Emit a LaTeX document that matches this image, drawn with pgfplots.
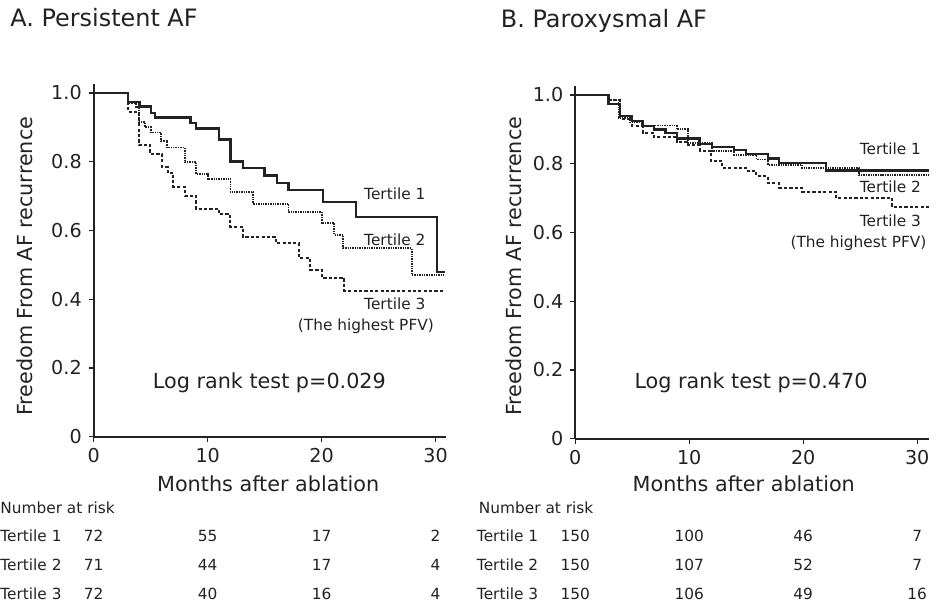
\documentclass[border=0pt]{standalone}
\usepackage{fontspec}
\setmainfont{DejaVu Sans}
\usepackage{pgfplots}
\pgfplotsset{compat=1.18}

\definecolor{ink}{HTML}{222222}

\newcommand\fa{\fontsize{10.4}{12}\selectfont}
\newcommand\fs{\fontsize{7.7}{9}\selectfont}
\newcommand\ft{\fontsize{12}{14}\selectfont}

\pgfplotsset{
  km/.style={
    x=5.715pt, y=172.4pt,
    xmin=0, xmax=30.9, ymin=0, ymax=1.026,
    axis x line*=bottom, axis y line*=left,
    axis line style={line width=0.9pt, color=ink},
    xtick={0,10,20,30}, xticklabels={0,10,20,30},
    ytick={0,0.2,0.4,0.6,0.8,1.0}, yticklabels={0,0.2,0.4,0.6,0.8,1.0},
    tick align=outside, major tick length=2.5pt,
    tick style={line width=0.6pt, color=ink},
    ticklabel style={font=\fontsize{9.6}{11}\selectfont, text=ink},
    clip=false,
    anchor=south west,
  },
  t1/.style={ink, line width=1.2pt, const plot},
  t2/.style={ink, line width=0.9pt, dash pattern=on 0.7pt off 0.5pt, const plot},
  t3/.style={ink, line width=1pt, dash pattern=on 1.6pt off 1.1pt, const plot},
}

\begin{document}
\begin{tikzpicture}

% A. Persistent AF
\begin{axis}[km, at={(47pt,-219pt)}]
\addplot[t1] coordinates {(0,1) (3.0,0.973) (4.0,0.96) (5.0,0.942) (5.4,0.929)
  (8.5,0.913) (9.0,0.897) (11.0,0.865) (12.0,0.80) (13.1,0.781) (15.0,0.76)
  (16.1,0.738) (17.1,0.718) (20.1,0.683) (23.0,0.639) (30.1,0.48) (30.8,0.48)};
\addplot[t2] coordinates {(0,1) (3.0,0.97) (3.7,0.96) (4.0,0.915) (4.5,0.9)
  (5.0,0.885) (5.9,0.861) (6.4,0.841) (8.0,0.798) (9.0,0.764) (10.0,0.75)
  (12.0,0.712) (14.0,0.678) (17.1,0.654) (20.0,0.622) (21.1,0.587) (21.9,0.548)
  (27.9,0.471) (30.8,0.471)};
\addplot[t3] coordinates {(0,1) (3.0,0.945) (3.96,0.849) (4.96,0.822) (6.0,0.784)
  (6.5,0.767) (7.0,0.726) (8.0,0.70) (9.0,0.663) (11.0,0.647) (12.0,0.61)
  (13.1,0.58) (16.0,0.5625) (18.0,0.52) (19.0,0.486) (20.0,0.462) (22.0,0.425)
  (30.8,0.425)};
\end{axis}

% B. Paroxysmal AF
\begin{axis}[km, at={(288.5pt,-220pt)}, xmax=31]
\addplot[t1] coordinates {(0,1) (2.9,0.973) (3.9,0.939) (5.0,0.924) (5.9,0.909)
  (6.9,0.9) (7.9,0.89) (8.9,0.873) (10.9,0.858) (12.0,0.848) (13.9,0.839)
  (15.0,0.829) (16.9,0.815) (17.9,0.802) (22.0,0.78) (31,0.78)};
\addplot[t2] coordinates {(0,1) (2.9,0.985) (3.8,0.934) (4.8,0.92) (5.9,0.911)
  (8.9,0.9) (9.9,0.86) (12.0,0.838) (13.9,0.826) (15.9,0.812) (16.9,0.797)
  (19.9,0.787) (24.9,0.766) (31,0.766)};
\addplot[t3] coordinates {(0,1) (2.9,0.985) (3.9,0.931) (5.0,0.909) (5.9,0.89)
  (6.9,0.878) (8.9,0.863) (9.9,0.854) (10.9,0.838) (11.9,0.807) (12.9,0.787)
  (15.0,0.778) (15.9,0.763) (16.9,0.743) (17.9,0.73) (19.9,0.719) (22.9,0.7)
  (27.8,0.673) (31,0.673)};
\end{axis}

% annotations in pixel coordinates of the reference
\begin{scope}[x=0.5pt, y=-0.5pt, every node/.style={inner sep=0pt, text=ink}]
\path[use as bounding box] (0,0) rectangle (936,607);

\node[anchor=base west, font=\ft] at (10,27) {A. Persistent AF};
\node[anchor=base west, font=\ft] at (502,28) {B. Paroxysmal AF};

\node[rotate=90, font=\fa] at (25,267) {Freedom From AF recurrence};
\node[rotate=90, font=\fa] at (515,267) {Freedom From AF recurrence};

\node[anchor=base, font=\fa] at (269,493) {Months after ablation};
\node[anchor=base, font=\fa] at (746,493) {Months after ablation};

\node[anchor=base west, font=\fa] at (153,390) {Log rank test p=0.029};
\node[anchor=base west, font=\fa] at (636,390) {Log rank test p=0.470};

\node[anchor=base, font=\fs] at (396,200) {Tertile 1};
\node[anchor=base, font=\fs] at (396,246.7) {Tertile 2};
\node[anchor=base, font=\fs] at (396,310.5) {Tertile 3};
\node[anchor=base, font=\fs] at (367,331.5) {(The highest PFV)};

\node[anchor=base, font=\fs] at (893,155) {Tertile 1};
\node[anchor=base, font=\fs] at (893,192.7) {Tertile 2};
\node[anchor=base, font=\fs] at (893,226.7) {Tertile 3};
\node[anchor=base, font=\fs] at (861,248) {(The highest PFV)};

% number at risk
\node[anchor=base west, font=\fs] at (0,515) {Number at risk};
\node[anchor=base west, font=\fs] at (0,542.7) {Tertile 1};
\node[anchor=base west, font=\fs] at (0,571.7) {Tertile 2};
\node[anchor=base west, font=\fs] at (0,601) {Tertile 3};
\foreach \v [count=\i from 0] in {72,55,17,2}
  \node[anchor=base, font=\fs] at (94+114.3*\i,542.7) {\v};
\foreach \v [count=\i from 0] in {71,44,17,4}
  \node[anchor=base, font=\fs] at (94+114.3*\i,571.7) {\v};
\foreach \v [count=\i from 0] in {72,40,16,4}
  \node[anchor=base, font=\fs] at (94+114.3*\i,601) {\v};

\node[anchor=base west, font=\fs] at (480,515) {Number at risk};
\node[anchor=base west, font=\fs] at (478,542.7) {Tertile 1};
\node[anchor=base west, font=\fs] at (478,571.7) {Tertile 2};
\node[anchor=base west, font=\fs] at (478,601) {Tertile 3};
\foreach \v [count=\i from 0] in {150,100,46,7}
  \node[anchor=base, font=\fs] at (577+114.3*\i,542.7) {\v};
\foreach \v [count=\i from 0] in {150,107,52,7}
  \node[anchor=base, font=\fs] at (577+114.3*\i,571.7) {\v};
\foreach \v [count=\i from 0] in {150,106,49,16}
  \node[anchor=base, font=\fs] at (577+114.3*\i,601) {\v};
\end{scope}

\end{tikzpicture}
\end{document}
